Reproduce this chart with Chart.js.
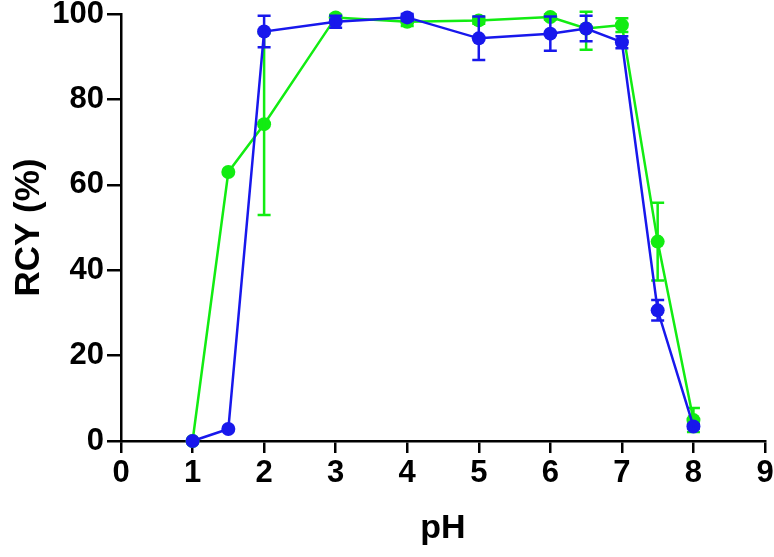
<!DOCTYPE html>
<html>
<head>
<meta charset="utf-8">
<script src="https://cdn.jsdelivr.net/npm/chart.js@4/dist/chart.umd.min.js"></script>
<style>
html,body{margin:0;padding:0;background:#fff;}
#wrap{width:774px;height:557px;position:relative;}
</style>
</head>
<body>
<div id="wrap"><canvas id="c" width="774" height="557"></canvas></div>
<script>
const phValues   = [1, 1.5, 2, 3, 4, 5, 6, 6.5, 7, 7.5, 8];
const greenMean  = [0, 63.0, 74.2, 99.2, 98.2, 98.5, 99.3, 96.6, 97.4, 46.7, 4.9];
const greenErr   = [0, 0, 21.3, 0.6, 1.0, 0.8, 0.6, 5.0, 1.6, 9.1, 2.8];
const blueMean   = [0, 2.8, 95.9, 98.2, 99.2, 94.3, 95.4, 96.6, 93.4, 30.6, 3.4];
const blueErr    = [0, 0, 3.7, 1.4, 0.8, 5.1, 4.0, 3.0, 1.4, 2.4, 0.5];
const xTicks     = [0, 1, 2, 3, 4, 5, 6, 7, 8, 9];
const yTicks     = [0, 20, 40, 60, 80, 100];

const GREEN = 'rgb(18,236,18)';
const BLUE  = 'rgb(24,24,236)';
const FONT  = '"Liberation Sans", Arial, sans-serif';

function toPoints(xs, ys) { return xs.map((x, i) => ({x: x, y: ys[i]})); }

const errorBarPlugin = {
  id: 'errorBars',
  afterDatasetDraw(chart, args) {
    const ds = chart.data.datasets[args.index];
    if (!ds.errors) return;
    const ctx = chart.ctx, xs = chart.scales.x, ys = chart.scales.y;
    ctx.save();
    ctx.strokeStyle = ds.borderColor;
    ctx.lineWidth = 2.5;
    ds.data.forEach((p, i) => {
      const e = ds.errors[i];
      if (!e) return;
      const px = xs.getPixelForValue(p.x);
      const top = ys.getPixelForValue(Math.min(p.y + e, 100.5));
      const bot = ys.getPixelForValue(p.y - e);
      ctx.beginPath();
      ctx.moveTo(px, top); ctx.lineTo(px, bot);
      ctx.moveTo(px - 6.5, top); ctx.lineTo(px + 6.5, top);
      ctx.moveTo(px - 6.5, bot); ctx.lineTo(px + 6.5, bot);
      ctx.stroke();
    });
    ctx.restore();
  }
};

new Chart(document.getElementById('c'), {
  type: 'line',
  data: {
    datasets: [
      {
        label: 'green',
        data: toPoints(phValues, greenMean),
        errors: greenErr,
        borderColor: GREEN,
        backgroundColor: GREEN,
        pointBackgroundColor: GREEN,
        pointBorderWidth: 0,
        pointRadius: 7,
        borderWidth: 2.5,
        tension: 0,
        order: 2
      },
      {
        label: 'blue',
        data: toPoints(phValues, blueMean),
        errors: blueErr,
        borderColor: BLUE,
        backgroundColor: BLUE,
        pointBackgroundColor: BLUE,
        pointBorderWidth: 0,
        pointRadius: 7,
        borderWidth: 2.5,
        tension: 0,
        order: 1
      }
    ]
  },
  options: {
    responsive: false,
    animation: false,
    clip: false,
    layout: {padding: {top: 14, right: 9, bottom: 0, left: 0}},
    plugins: {legend: {display: false}, tooltip: {enabled: false}},
    scales: {
      x: {
        type: 'linear',
        min: 0, max: 9,
        afterBuildTicks: (s) => { s.ticks = xTicks.map(v => ({value: v})); },
        afterFit: (s) => { s.height = 116; s.paddingLeft = 0; s.paddingRight = 0; },
        border: {display: true, color: '#000', width: 2.5},
        grid: {drawOnChartArea: false, drawTicks: true, tickLength: 12, tickColor: '#000', lineWidth: 2.5},
        ticks: {color: '#000', font: {family: FONT, size: 31, weight: 'bold'}, padding: 2, maxRotation: 0},
        title: {display: true, text: 'pH', color: '#000', font: {family: FONT, size: 34, weight: 'bold'}, padding: {top: 0, bottom: 8}}
      },
      y: {
        type: 'linear',
        min: 0, max: 100,
        afterBuildTicks: (s) => { s.ticks = yTicks.map(v => ({value: v})); },
        afterFit: (s) => { s.width = 121; s.paddingTop = 0; s.paddingBottom = 0; },
        border: {display: true, color: '#000', width: 2.5},
        grid: {drawOnChartArea: false, drawTicks: true, tickLength: 14, tickColor: '#000', lineWidth: 2.5},
        ticks: {color: '#000', font: {family: FONT, size: 31, weight: 'bold'}, padding: 3},
        title: {display: true, text: 'RCY (%)', color: '#000', font: {family: FONT, size: 35, weight: 'bold'}, padding: {top: 8, bottom: 4}}
      }
    }
  },
  plugins: [errorBarPlugin]
});
</script>
</body>
</html>
